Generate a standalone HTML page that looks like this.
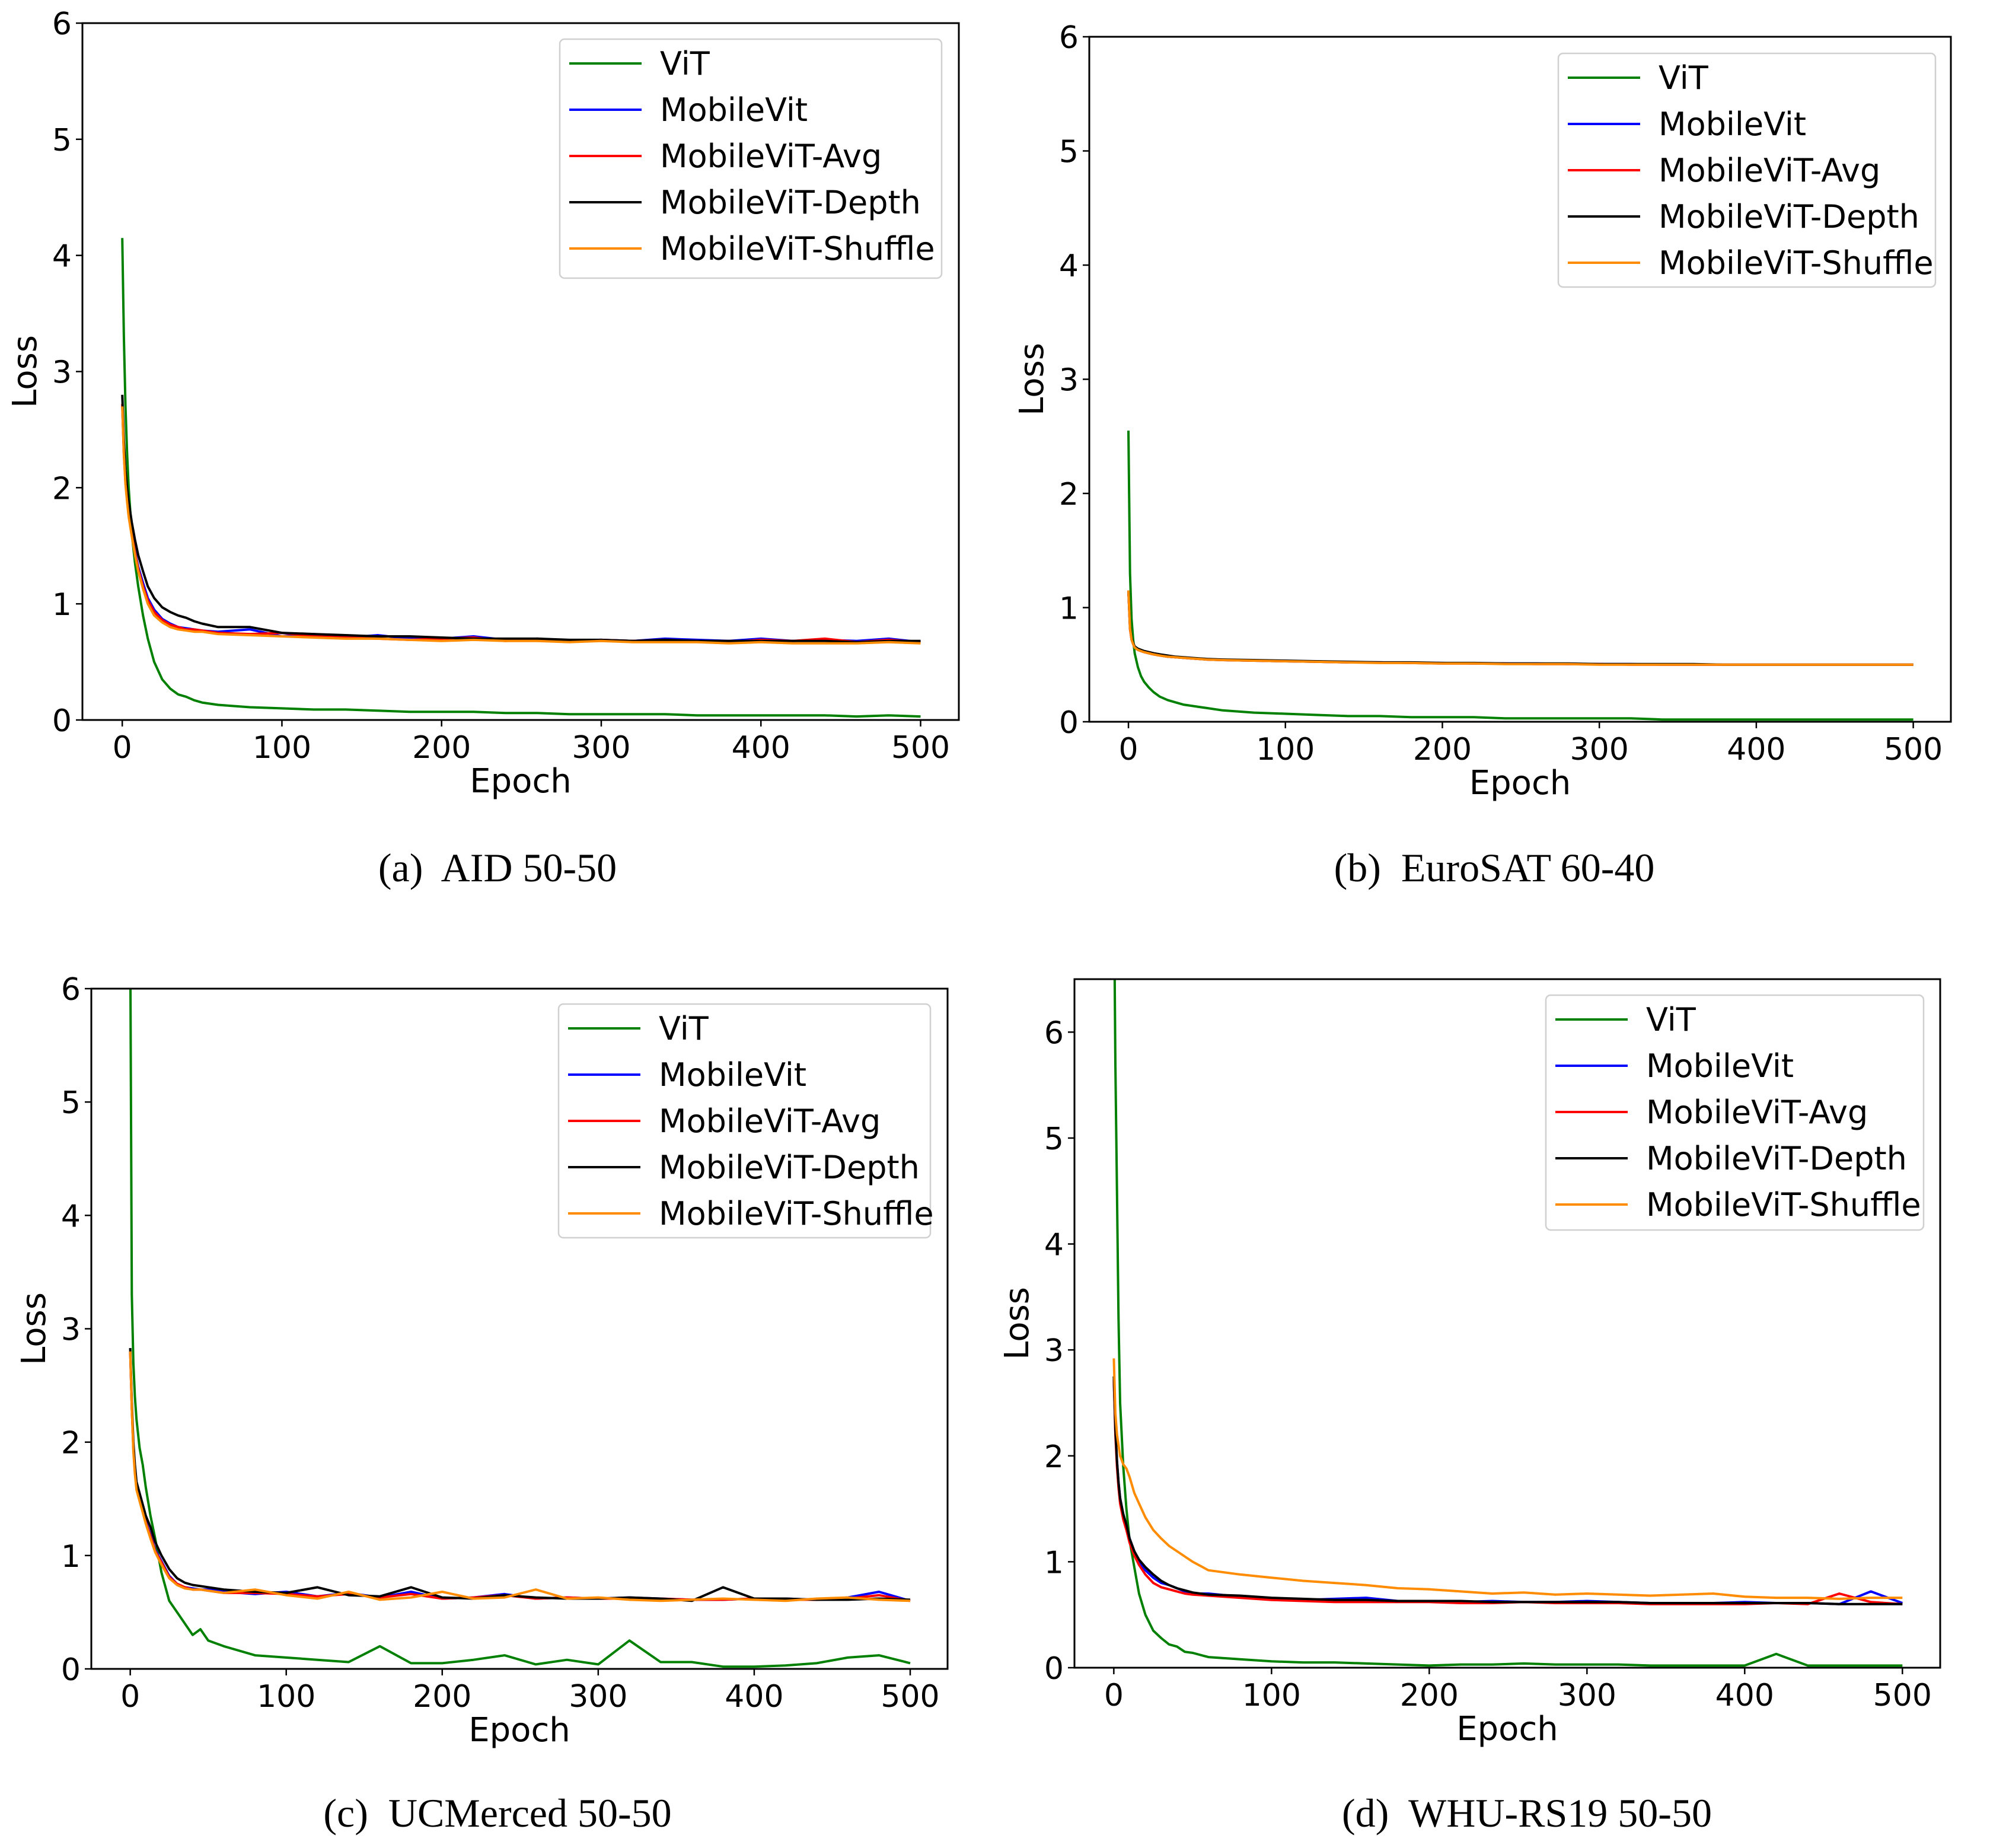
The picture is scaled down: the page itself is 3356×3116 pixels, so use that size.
<!DOCTYPE html>
<html><head><meta charset="utf-8">
<style>
html,body{margin:0;padding:0;background:#fff;}
svg{display:block;}
text{font-family:"DejaVu Sans","Liberation Sans",sans-serif;fill:#000;}
.cap{font-family:"Liberation Serif",serif;font-size:68px;white-space:pre;}
</style></head>
<body>
<svg id="fig" width="3356" height="3116" viewBox="0 0 3356 3116" xmlns="http://www.w3.org/2000/svg" xml:space="preserve">
<text class="cap" x="839" y="1486" text-anchor="middle">(a)  AID 50-50</text>
<text class="cap" x="2520" y="1486" text-anchor="middle">(b)  EuroSAT 60-40</text>
<text class="cap" x="839" y="3080" text-anchor="middle">(c)  UCMerced 50-50</text>
<text class="cap" x="2575" y="3080" text-anchor="middle">(d)  WHU-RS19 50-50</text>
</svg>
<script>
const epochs=[0,1,2,3,4,6,8,10,13,16,20,25,30,35,40,45,50,60,80,100,120,140,160,180,200,220,240,260,280,300,320,340,360,380,400,420,440,460,480,500];
const xTicks=[0,100,200,300,400,500];
const seriesNames=["ViT","MobileVit","MobileViT-Avg","MobileViT-Depth","MobileViT-Shuffle"];
const seriesColors=["#008000","#0000ff","#ff0000","#000000","#ff8c00"];

// Plot (a) AID 50-50
const aVit=[4.15,3.3,2.7,2.3,2.0,1.6,1.35,1.15,0.9,0.7,0.5,0.35,0.27,0.22,0.2,0.17,0.15,0.13,0.11,0.1,0.09,0.09,0.08,0.07,0.07,0.07,0.06,0.06,0.05,0.05,0.05,0.05,0.04,0.04,0.04,0.04,0.04,0.03,0.04,0.03];
const aMvit=[2.7,2.3,2.05,1.9,1.78,1.6,1.45,1.32,1.18,1.05,0.95,0.87,0.83,0.8,0.79,0.78,0.77,0.76,0.78,0.72,0.74,0.71,0.73,0.7,0.7,0.72,0.69,0.7,0.68,0.69,0.68,0.7,0.69,0.68,0.7,0.68,0.69,0.68,0.7,0.67];
const aAvg=[2.72,2.3,2.05,1.9,1.77,1.6,1.44,1.3,1.15,1.03,0.93,0.86,0.82,0.8,0.78,0.78,0.77,0.75,0.74,0.75,0.72,0.71,0.7,0.69,0.7,0.71,0.68,0.7,0.68,0.69,0.68,0.69,0.68,0.67,0.69,0.68,0.7,0.67,0.69,0.67];
const aDepth=[2.8,2.4,2.15,2.0,1.88,1.7,1.55,1.42,1.28,1.15,1.05,0.97,0.93,0.9,0.88,0.85,0.83,0.8,0.8,0.75,0.74,0.73,0.72,0.72,0.71,0.7,0.7,0.7,0.69,0.69,0.68,0.69,0.68,0.68,0.68,0.68,0.68,0.67,0.68,0.68];
const aShuf=[2.7,2.28,2.03,1.88,1.75,1.58,1.42,1.28,1.13,1.0,0.9,0.84,0.8,0.78,0.77,0.76,0.76,0.74,0.73,0.72,0.71,0.7,0.7,0.69,0.68,0.69,0.68,0.68,0.67,0.68,0.67,0.67,0.67,0.66,0.67,0.66,0.66,0.66,0.67,0.66];
const aYTicks=[0,1,2,3,4,5,6];

// Plot (b) EuroSAT 60-40
const bVit=[2.55,1.3,0.9,0.72,0.6,0.48,0.4,0.35,0.3,0.26,0.22,0.19,0.17,0.15,0.14,0.13,0.12,0.1,0.08,0.07,0.06,0.05,0.05,0.04,0.04,0.04,0.03,0.03,0.03,0.03,0.03,0.02,0.02,0.02,0.02,0.02,0.02,0.02,0.02,0.02];
const bMvit=[1.15,0.82,0.72,0.68,0.65,0.63,0.62,0.61,0.6,0.59,0.58,0.57,0.565,0.56,0.555,0.55,0.545,0.54,0.535,0.53,0.525,0.52,0.52,0.515,0.515,0.51,0.51,0.51,0.505,0.505,0.505,0.5,0.5,0.5,0.5,0.5,0.5,0.5,0.5,0.5];
const bAvg=[1.14,0.81,0.72,0.68,0.65,0.63,0.62,0.61,0.6,0.59,0.58,0.57,0.565,0.56,0.555,0.55,0.545,0.54,0.535,0.53,0.525,0.52,0.52,0.515,0.51,0.51,0.51,0.505,0.505,0.505,0.5,0.5,0.5,0.5,0.5,0.5,0.5,0.5,0.5,0.5];
const bDepth=[1.15,0.83,0.73,0.69,0.66,0.64,0.63,0.62,0.61,0.6,0.59,0.58,0.57,0.565,0.56,0.555,0.55,0.545,0.54,0.535,0.53,0.525,0.52,0.52,0.515,0.515,0.51,0.51,0.51,0.505,0.505,0.505,0.505,0.5,0.5,0.5,0.5,0.5,0.5,0.5];
const bShuf=[1.15,0.82,0.72,0.68,0.65,0.63,0.62,0.61,0.6,0.59,0.58,0.57,0.565,0.56,0.555,0.55,0.545,0.54,0.535,0.53,0.525,0.52,0.515,0.515,0.51,0.51,0.505,0.505,0.505,0.5,0.5,0.5,0.5,0.5,0.5,0.5,0.5,0.5,0.5,0.5];
const bYTicks=[0,1,2,3,4,5,6];

// Plot (c) UCMerced 50-50
const cVit=[6.5,3.3,2.7,2.4,2.2,1.95,1.8,1.6,1.35,1.15,0.85,0.6,0.5,0.4,0.3,0.35,0.25,0.2,0.12,0.1,0.08,0.06,0.2,0.05,0.05,0.08,0.12,0.04,0.08,0.04,0.25,0.06,0.06,0.02,0.02,0.03,0.05,0.1,0.12,0.05];
const cMvit=[2.8,2.3,1.95,1.75,1.6,1.5,1.4,1.3,1.18,1.05,0.95,0.82,0.75,0.72,0.71,0.7,0.7,0.68,0.66,0.68,0.64,0.67,0.63,0.68,0.62,0.63,0.66,0.62,0.63,0.62,0.63,0.62,0.61,0.61,0.62,0.62,0.61,0.63,0.68,0.6];
const cAvg=[2.8,2.3,1.94,1.74,1.6,1.49,1.39,1.29,1.17,1.04,0.94,0.81,0.75,0.72,0.7,0.7,0.69,0.67,0.67,0.66,0.64,0.66,0.63,0.66,0.62,0.63,0.65,0.62,0.63,0.62,0.62,0.62,0.61,0.61,0.62,0.61,0.61,0.62,0.65,0.6];
const cDepth=[2.83,2.35,2.0,1.8,1.65,1.55,1.45,1.35,1.25,1.12,1.0,0.88,0.8,0.76,0.74,0.73,0.72,0.7,0.68,0.67,0.72,0.65,0.64,0.72,0.63,0.62,0.65,0.63,0.62,0.62,0.63,0.62,0.6,0.72,0.62,0.62,0.61,0.61,0.62,0.61];
const cShuf=[2.8,2.3,1.92,1.72,1.58,1.48,1.38,1.28,1.15,1.03,0.92,0.8,0.74,0.71,0.7,0.7,0.69,0.67,0.7,0.65,0.62,0.68,0.61,0.63,0.68,0.62,0.63,0.7,0.62,0.63,0.61,0.6,0.61,0.62,0.61,0.6,0.62,0.63,0.61,0.6];
const cYTicks=[0,1,2,3,4,5,6];

// Plot (d) WHU-RS19 50-50
const dVit=[7.5,5.7,4.5,3.3,2.5,1.9,1.5,1.2,0.95,0.7,0.5,0.35,0.28,0.22,0.2,0.15,0.14,0.1,0.08,0.06,0.05,0.05,0.04,0.03,0.02,0.03,0.03,0.04,0.03,0.03,0.03,0.02,0.02,0.02,0.02,0.13,0.02,0.02,0.02,0.02];
const dMvit=[2.7,2.25,1.95,1.75,1.6,1.45,1.35,1.22,1.1,1.0,0.92,0.85,0.8,0.78,0.75,0.72,0.7,0.7,0.67,0.65,0.64,0.65,0.66,0.63,0.63,0.62,0.63,0.62,0.62,0.63,0.62,0.61,0.61,0.61,0.62,0.61,0.61,0.6,0.72,0.61];
const dAvg=[2.72,2.2,1.9,1.7,1.55,1.4,1.3,1.18,1.06,0.97,0.88,0.8,0.76,0.74,0.72,0.7,0.69,0.68,0.66,0.64,0.63,0.62,0.62,0.62,0.62,0.61,0.61,0.62,0.61,0.61,0.61,0.6,0.6,0.6,0.6,0.61,0.6,0.7,0.62,0.6];
const dDepth=[2.75,2.25,1.95,1.75,1.6,1.45,1.35,1.22,1.1,1.02,0.95,0.88,0.82,0.78,0.75,0.73,0.71,0.69,0.68,0.66,0.65,0.64,0.64,0.63,0.63,0.63,0.62,0.62,0.62,0.62,0.62,0.61,0.61,0.61,0.61,0.61,0.61,0.6,0.6,0.6];
const dShuf=[2.92,2.4,2.2,2.1,2.0,1.92,1.88,1.8,1.65,1.55,1.42,1.3,1.22,1.15,1.1,1.05,1.0,0.92,0.88,0.85,0.82,0.8,0.78,0.75,0.74,0.72,0.7,0.71,0.69,0.7,0.69,0.68,0.69,0.7,0.67,0.66,0.66,0.65,0.66,0.66];
const dYTicks=[0,1,2,3,4,5,6];

const NS="http://www.w3.org/2000/svg";
const fig=document.getElementById('fig');
function mk(tag,attrs,parent){const e=document.createElementNS(NS,tag);for(const k in attrs)e.setAttribute(k,attrs[k]);(parent||fig).appendChild(e);return e;}

const panels=[
 {id:'a',L:139,R:1617,T:39,B:1214,ymax:6,yt:aYTicks,data:[aVit,aMvit,aAvg,aDepth,aShuf],leg:{x:944,y:66,w:644,h:403}},
 {id:'b',L:1837,R:3290,T:62,B:1217,ymax:6,yt:bYTicks,data:[bVit,bMvit,bAvg,bDepth,bShuf],leg:{x:2628,y:90,w:636,h:394}},
 {id:'c',L:154,R:1598,T:1667,B:2814,ymax:6,yt:cYTicks,data:[cVit,cMvit,cAvg,cDepth,cShuf],leg:{x:942,y:1693,w:627,h:394}},
 {id:'d',L:1812,R:3272,T:1651,B:2812,ymax:6.5,yt:dYTicks,data:[dVit,dMvit,dAvg,dDepth,dShuf],leg:{x:2607,y:1678,w:637,h:396}}
];
const XMIN=-24.95,XMAX=523.95;

panels.forEach(p=>{
 const xs=v=>p.L+(v-XMIN)/(XMAX-XMIN)*(p.R-p.L);
 const ys=v=>p.B-v/p.ymax*(p.B-p.T);
 const g=mk('g',{});
 
 
 const cp=mk('clipPath',{id:'clip'+p.id},g);
 mk('rect',{x:p.L,y:p.T,width:p.R-p.L,height:p.B-p.T},cp);
 p.data.forEach((arr,si)=>{
  const n=Math.min(arr.length,epochs.length);
  let d='';
  for(let i=0;i<n;i++){d+=(i?'L':'M')+xs(epochs[i]).toFixed(1)+','+ys(arr[i]).toFixed(1);}
  const path=mk('path',{d:d,fill:'none',stroke:seriesColors[si],'stroke-width':4,'stroke-linejoin':'round','clip-path':'url(#clip'+p.id+')'},g);
  
  
 });
 const fr=mk('rect',{x:p.L,y:p.T,width:p.R-p.L,height:p.B-p.T,fill:'none',stroke:'#000','stroke-width':3},g);
 
 
 xTicks.forEach(t=>{
  const x=xs(t);
  mk('line',{x1:x,y1:p.B,x2:x,y2:p.B+11,stroke:'#000','stroke-width':2.5},g);
  const tx=mk('text',{x:x,y:p.B+64,'text-anchor':'middle','font-size':52},g);
  tx.textContent=t;
  
  
 });
 p.yt.forEach(t=>{
  const y=ys(t);
  mk('line',{x1:p.L-11,y1:y,x2:p.L,y2:y,stroke:'#000','stroke-width':2.5},g);
  const tx=mk('text',{x:p.L-18,y:y+19,'text-anchor':'end','font-size':52},g);
  tx.textContent=t;
  
  
 });
 const xl=mk('text',{x:(p.L+p.R)/2,y:p.B+122,'text-anchor':'middle','font-size':56},g);
 xl.textContent='Epoch';
 
 
 const yc=(p.T+p.B)/2, yx=p.L-78;
 const yl=mk('text',{x:yx,y:yc,'text-anchor':'middle','font-size':56,transform:'rotate(-90 '+yx+' '+yc+')'},g);
 yl.textContent='Loss';
 
 
 const lg=mk('g',{},g);
 
 
 mk('rect',{x:p.leg.x,y:p.leg.y,width:p.leg.w,height:p.leg.h,rx:8,fill:'#fff','fill-opacity':0.8,stroke:'#d0d0d0','stroke-width':2.5},lg);
 seriesNames.forEach((nm,i)=>{
  const y=p.leg.y+41+i*78;
  const ln=mk('line',{x1:p.leg.x+16,y1:y,x2:p.leg.x+138,y2:y,stroke:seriesColors[i],'stroke-width':4},lg);
  
  
  const t=mk('text',{x:p.leg.x+169,y:y+19,'font-size':54},lg);
  t.textContent=nm;
  
  
 });
});
</script>
</body></html>
